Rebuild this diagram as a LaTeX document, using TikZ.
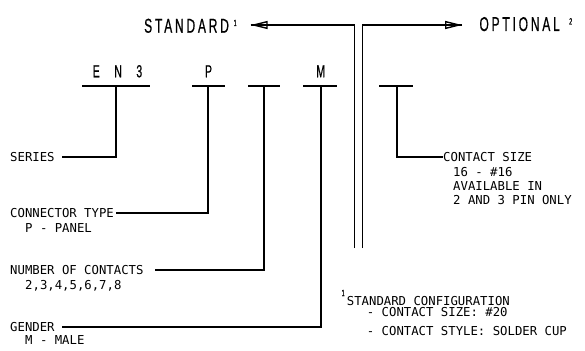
\documentclass[tikz,border=0pt]{standalone}
\usepackage{fontspec}
\setmainfont{Liberation Sans}
\newfontfamily\smallf{DejaVu Sans Mono}
\newfontfamily\bigf{Liberation Sans}[FakeStretch=0.6,LetterSpace=14,FakeBold=0.6]
\usetikzlibrary{arrows.meta}
\begin{document}
\begin{tikzpicture}[x=1pt,y=-1pt,
  lbl/.style={inner sep=0pt,anchor=base west,font=\smallf\fontsize{12.3}{13}\selectfont},
  big/.style={inner sep=0pt,anchor=base west,font=\bigf\fontsize{20}{22}\selectfont},
  code/.style={inner sep=0pt,anchor=base,font=\bigf\fontsize{17.5}{19}\selectfont},
  bar/.style={line width=2pt},
  lead/.style={line width=2pt},
  rail/.style={line width=1.3pt},
  tipstyle/.style={-{Triangle[open,length=17pt,width=8pt,line width=1.4pt]}},
  supr/.style={inner sep=0pt,anchor=base west,font=\bigf\fontsize{9}{9}\selectfont}
]
\useasboundingbox (0,0) rectangle (585,350);

% top labels
\node[big] (std) at (144,32.7) {STANDARD};
\node[supr] (stdsup) at (233.5,26) {1};
\node[big] (opt) at (479.3,31) {OPTIONAL};
\node[supr] (optsup) at (569,24.5) {2};

% code letters
\node[code] (en3) at (117.5,77.3) {E\hspace{14.5pt}N\hspace{14.5pt}3};
\node[code] (p) at (208.5,77.3) {P};
\node[code] (m) at (320.7,77.3) {M};

% bars
\draw[bar] (82,86) -- (150,86);
\draw[bar] (192,86) -- (225,86);
\draw[bar] (248,86) -- (280,86);
\draw[bar] (303.3,86) -- (337.3,86);
\draw[bar] (379.3,86) -- (412.7,86);

\coordinate (b1) at (116,86);
\coordinate (b2) at (208.3,86);
\coordinate (b3) at (264.3,86);
\coordinate (b4) at (320.7,86);
\coordinate (b5) at (397.3,86);

% left labels
\node[lbl] (series) at (10,161) {SERIES};
\node[lbl] (ct) at (10,217.7) {CONNECTOR TYPE};
\node[lbl] (ctsub) at (25,232.7) {P - PANEL};
\node[lbl] (noc) at (10,274.3) {NUMBER OF CONTACTS};
\node[lbl] (nocsub) at (25,289.3) {2,3,4,5,6,7,8};
\node[lbl] (gen) at (10,331) {GENDER};
\node[lbl] (gensub) at (25,344) {M - MALE};

% contact size
\node[lbl] (cs) at (443,161.7) {CONTACT SIZE};
\node[lbl] (cs1) at (453,176) {16 - \#16};
\node[lbl] (cs2) at (453,190) {AVAILABLE IN};
\node[lbl] (cs3) at (453,204) {2 AND 3 PIN ONLY};

% footnote
\node[supr] (fnsup) at (341.5,296) {1};
\node[lbl] (fn1) at (346.7,305.7) {STANDARD CONFIGURATION};
\node[lbl] (fn2) at (366.7,316.7) {- CONTACT SIZE: \#20};
\node[lbl] (fn3) at (366.7,335.7) {- CONTACT STYLE: SOLDER CUP};

% leaders
\draw[lead,shorten >=7.6pt] (b1) |- (series.east);
\draw[lead,shorten >=1.5pt] (b2) |- (ct.east);
\draw[lead,shorten >=11.8pt] (b3) |- (noc.east);
\draw[lead,shorten >=7.6pt] (b4) |- (gen.east);
\draw[lead] (b5) |- (cs.west);

% rails with arrows
\coordinate (jl) at (354.3,248);
\coordinate (jr) at (362.3,248);
\coordinate (stdtip) at (250.7,25);
\coordinate (opttip) at (462,25);
\draw[rail,tipstyle] (jl) |- (stdtip);
\draw[rail,tipstyle] (jr) |- (opttip);
\draw[rail] (stdtip) -- ++(17,0);
\draw[rail] (opttip) -- ++(-17,0);
\end{tikzpicture}
\end{document}
